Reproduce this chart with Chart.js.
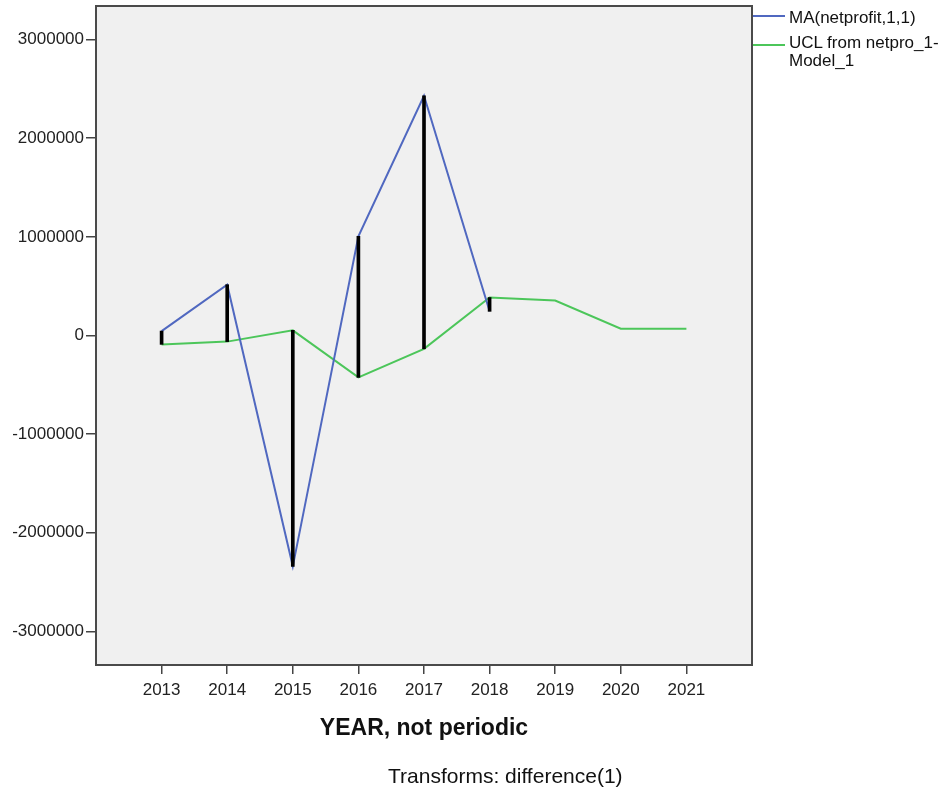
<!DOCTYPE html>
<html>
<head>
<meta charset="utf-8">
<script src="https://cdn.jsdelivr.net/npm/chart.js@4"></script>
<style>
  body { margin: 0; background: #fff; font-family: "Liberation Sans", Arial, sans-serif; }
  #wrap { position: relative; width: 944px; height: 789px; }
  .lbl { position: absolute; color: #111; white-space: nowrap; }
</style>
</head>
<body>
<div id="wrap">
  <canvas id="chart" width="944" height="789"></canvas>
  <div class="lbl" style="left:789px;top:9px;font-size:17px;line-height:18px;">MA(netprofit,1,1)</div>
  <div class="lbl" style="left:789px;top:34px;font-size:17px;line-height:18px;">UCL from netpro_1-<br>Model_1</div>
  <div class="lbl" style="left:0;width:848px;top:714px;text-align:center;font-size:23px;font-weight:bold;">YEAR, not periodic</div>
  <div class="lbl" style="left:388px;top:764px;font-size:21px;">Transforms: difference(1)</div>
</div>
<script>
// data
const years = [2013, 2014, 2015, 2016, 2017, 2018, 2019, 2020, 2021];
const fitYears = [2013, 2014, 2015, 2016, 2017, 2018];
const maFit = [45000, 515000, -2340000, 1005000, 2430000, 245000];
const ucl = [-90000, -62000, 52000, -425000, -135000, 385000, 355000, 68000, 68000];
const yTicks = [-3000000, -2000000, -1000000, 0, 1000000, 2000000, 3000000];

const blueData = fitYears.map((x, i) => ({ x: x, y: maFit[i] }));
const greenData = years.map((x, i) => ({ x: x, y: ucl[i] }));
const dropData = fitYears.map((x, i) => ({ x: x, y: [Math.min(maFit[i], ucl[i]), Math.max(maFit[i], ucl[i])] }));

// plot background, frame and legend lines
const framePlugin = {
  id: 'frame',
  beforeDraw(chart) {
    const a = chart.chartArea, c = chart.ctx;
    c.save();
    c.fillStyle = '#f0f0f0';
    c.fillRect(a.left, a.top, a.right - a.left, a.bottom - a.top);
    c.restore();
  },
  afterDraw(chart) {
    const a = chart.chartArea, c = chart.ctx;
    c.save();
    c.strokeStyle = '#4a4a4a';
    c.lineWidth = 2;
    c.strokeRect(a.left, a.top, a.right - a.left, a.bottom - a.top);
    c.lineWidth = 2;
    c.strokeStyle = '#5068c0';
    c.beginPath(); c.moveTo(a.right + 1, 16); c.lineTo(a.right + 33, 16); c.stroke();
    c.strokeStyle = '#4cc65a';
    c.beginPath(); c.moveTo(a.right + 1, 45); c.lineTo(a.right + 33, 45); c.stroke();
    c.restore();
  }
};

const tickFont = { family: '"Liberation Sans", Arial, sans-serif', size: 17 };

new Chart(document.getElementById('chart'), {
  type: 'line',
  data: {
    datasets: [
      {
        type: 'bar',
        data: dropData,
        backgroundColor: '#000',
        barThickness: 3,
        order: 0
      },
      {
        data: blueData,
        borderColor: '#5068c0',
        borderWidth: 2,
        pointRadius: 0,
        tension: 0,
        order: 1
      },
      {
        data: greenData,
        borderColor: '#4cc65a',
        borderWidth: 2,
        pointRadius: 0,
        tension: 0,
        order: 2
      }
    ]
  },
  options: {
    responsive: false,
    animation: false,
    layout: { padding: { top: 6, right: 192, left: 0, bottom: 0 } },
    plugins: { legend: { display: false }, tooltip: { enabled: false } },
    scales: {
      x: {
        type: 'linear',
        min: 2012,
        max: 2022,
        offset: false,
        afterBuildTicks(axis) { axis.ticks = years.map(v => ({ value: v })); },
        afterFit(axis) { axis.height = 124; axis.paddingLeft = 0; axis.paddingRight = 0; },
        grid: { display: true, drawOnChartArea: false, offset: false, tickLength: 9, color: '#444', lineWidth: 1.5 },
        border: { display: false },
        ticks: {
          color: '#222',
          font: tickFont,
          padding: 6,
          maxRotation: 0,
          callback: v => String(v)
        }
      },
      y: {
        type: 'linear',
        min: -3340000,
        max: 3340000,
        afterBuildTicks(axis) { axis.ticks = yTicks.map(v => ({ value: v })); },
        afterFit(axis) { axis.width = 96; axis.paddingTop = 0; axis.paddingBottom = 0; },
        grid: { display: true, drawOnChartArea: false, tickLength: 10, color: '#444', lineWidth: 1.5 },
        border: { display: false },
        ticks: {
          color: '#222',
          font: tickFont,
          padding: 2,
          callback: v => String(v)
        }
      }
    }
  },
  plugins: [framePlugin]
});
</script>
</body>
</html>
